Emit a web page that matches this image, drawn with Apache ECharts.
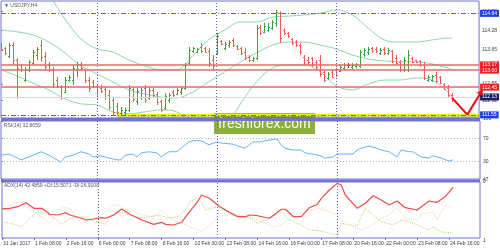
<!DOCTYPE html>
<html><head><meta charset="utf-8">
<script src="https://cdn.jsdelivr.net/npm/echarts@6/dist/echarts.min.js"></script>
<style>html,body{margin:0;padding:0;background:#fff}#c{width:500px;height:250px}</style>
</head><body><div id="c"></div>
<script>
// ---------- data ----------
const tickLabels = ['31 Jan 2017','1 Feb 08:00','2 Feb 16:00','6 Feb 00:00','7 Feb 08:00','8 Feb 16:00','10 Feb 00:00','13 Feb 08:00','14 Feb 16:00','16 Feb 00:00','17 Feb 08:00','20 Feb 16:00','22 Feb 00:00','23 Feb 08:00','24 Feb 16:00'];
const weekStarts = [24, 54, 84];
const opens = [113.81,113.72,113.46,113.81,113.33,113.17,112.68,113.01,113.23,113.49,
113.81,113.46,113.17,113.01,112.68,112.46,112.29,112.68,112.68,113.01,
113.20,113.01,112.68,112.62,112.49,112.42,112.39,112.20,112.04,111.84,
111.61,111.65,111.71,112.39,112.00,112.13,112.42,112.10,112.36,112.23,
112.00,111.78,112.04,112.29,112.23,112.29,112.42,113.23,113.62,113.59,
113.75,113.72,113.62,113.33,113.56,113.94,113.72,113.81,113.98,113.78,
113.72,113.59,113.43,113.33,113.39,114.40,114.24,114.30,114.36,114.53,
114.85,114.30,114.20,114.01,113.91,113.81,113.43,113.33,113.39,113.27,
113.33,112.94,112.75,112.94,113.01,112.97,113.07,113.17,113.10,113.14,
113.14,113.52,113.59,113.72,113.69,113.56,113.69,113.56,113.62,113.39,
113.27,113.01,113.17,113.39,113.33,113.30,113.17,112.68,112.68,112.84,
112.78,112.55,112.42,112.20];
const closes = [113.69,113.56,113.81,113.33,113.07,113.01,113.01,113.27,113.59,113.69,
113.43,113.10,113.01,112.55,112.49,112.13,112.68,112.78,113.07,113.20,
113.07,112.68,112.42,112.49,112.13,112.33,112.13,111.81,111.65,111.65,
111.71,111.71,112.42,112.07,112.33,112.36,112.04,112.36,112.20,111.97,
111.71,112.16,112.20,112.20,112.36,112.42,113.17,113.65,113.72,113.69,
113.62,113.59,113.23,113.14,114.11,113.85,113.85,113.91,113.81,113.69,
113.56,113.39,113.33,113.39,114.36,114.20,114.43,114.40,114.56,114.88,
114.04,114.20,114.11,113.88,113.81,113.59,113.20,113.27,113.20,113.10,
112.88,112.68,112.88,112.78,112.84,113.10,113.17,113.17,113.17,113.20,
113.59,113.65,113.69,113.62,113.62,113.65,113.56,113.65,113.30,113.23,
113.01,113.33,113.49,113.27,113.27,113.17,112.75,112.78,112.81,112.65,
112.58,112.39,112.20,112.13];
const lows = [113.65,113.49,113.39,113.17,112.07,112.94,112.62,112.94,113.17,113.33,
113.27,113.01,112.94,112.42,112.42,112.04,112.26,112.62,112.52,112.78,
113.01,112.58,112.29,112.42,112.04,112.26,112.04,111.71,111.55,111.55,
111.55,111.55,111.65,111.97,111.87,112.04,111.94,112.04,112.13,111.87,
111.65,111.71,111.94,112.13,112.20,112.20,112.36,113.17,113.56,113.56,
113.56,113.56,113.10,113.01,113.49,113.81,113.65,113.72,113.75,113.65,
113.49,113.33,113.27,113.27,113.33,114.14,114.20,114.24,114.30,114.40,
113.88,114.14,114.04,113.81,113.75,113.49,113.14,113.17,113.10,113.01,
112.78,112.62,112.68,112.75,112.78,112.94,113.01,113.07,113.01,113.07,
113.07,113.43,113.49,113.56,113.56,113.49,113.49,113.49,113.23,113.17,
112.94,112.94,112.94,113.23,113.23,113.10,112.68,112.62,112.62,112.58,
112.55,112.36,112.13,111.97];
const highs = [113.88,113.75,113.88,113.91,113.39,113.20,113.10,113.33,113.65,113.75,
113.98,113.59,113.27,113.10,112.78,112.52,112.78,112.84,113.17,113.27,
113.27,113.01,112.78,112.68,112.52,112.52,112.46,112.36,112.10,111.94,
111.81,111.78,112.52,112.46,112.42,112.42,112.52,112.46,112.42,112.29,
112.04,112.26,112.26,112.36,112.42,112.46,113.23,113.75,113.75,113.72,
113.88,113.75,113.72,113.49,114.20,113.98,113.91,113.98,114.04,113.81,
113.75,113.72,113.49,113.43,114.46,114.46,114.53,114.53,114.62,114.95,
114.91,114.36,114.24,114.04,113.98,113.88,113.49,113.43,113.43,113.33,
113.49,113.01,112.94,113.01,113.07,113.17,113.23,113.23,113.23,113.23,
113.65,113.72,113.75,113.75,113.75,113.72,113.75,113.72,113.65,113.49,
113.33,113.43,113.65,113.43,113.33,113.33,113.27,112.84,112.84,112.94,
112.81,112.58,112.52,112.26];

const bandIdx = [0,4,8,12,16,20,24,28,32,36,40,44,48,52,56,60,64,68,72,76,80,84,88,92,96,100,104,108,112,113];
const bbUpper = [115.66,115.72,115.72,115.40,114.66,114.01,113.69,113.59,113.33,113.14,113.01,113.01,113.46,113.98,114.30,114.56,114.56,114.72,114.75,114.79,114.85,114.95,114.79,114.36,113.98,113.91,113.91,113.98,114.04,114.04];
const bbMiddle = [114.30,114.24,114.14,113.91,113.56,113.14,112.88,112.62,112.36,112.23,112.13,112.10,112.29,112.62,112.94,113.27,113.56,113.81,113.91,113.91,113.81,113.69,113.49,113.36,113.30,113.27,113.27,113.20,113.07,113.01];
const bbLower = [113.01,112.81,112.58,112.36,112.07,111.91,111.87,111.65,111.58,111.65,111.71,111.65,111.19,110.90,111.13,111.91,112.62,113.07,113.17,113.17,112.94,112.49,112.36,112.55,112.68,112.68,112.75,112.68,112.29,112.13];

const blueLevels = [114.84, 111.55];
const redLevels = [113.17, 113.00, 112.45];
const lastPrice = 112.13;
const supportLevel = 111.55, supportStart = 29, supportEnd = 119.75;
const arrowPath = [[113, 112.10], [116.8, 111.56], [120.6, 112.36]];
const priceTicks = [114.90, 114.28, 113.65, 112.55, 112.02];

const rsiIdx = [0,2,5,7,10,12,15,16,18,20,22,23,25,27,29,30,31,33,34,35,37,39,40,42,44,45,47,48,50,52,54,55,58,60,61,63,65,66,69,70,71,73,75,76,78,80,81,83,84,86,88,89,90,92,94,95,97,99,100,102,103,105,107,108,110,112,113];
const rsiVal = [41,43,33,38,47,41,29,38,41,47,43,38,40,36,33,33,41,43,38,45,47,45,38,47,47,53,64,66,66,59,64,62,60,55,53,64,64,66,69,59,53,50,50,45,43,40,36,38,43,43,43,50,53,57,53,50,47,38,50,47,47,38,36,40,36,31,33];
const rsiLevels = [70, 30];

const adxIdx = [0,2,4,6,8,10,12,14,16,17,20,21,23,25,26,28,30,32,35,38,40,41,43,45,47,49,50,52,54,56,59,61,62,64,67,70,71,73,75,77,79,80,82,84,85,86,89,91,93,95,97,99,101,104,107,109,111,113];
const adxVal = [25,25.4,26.7,30,25.4,25.4,20.5,19.9,21.8,19.9,17.2,15.8,16.6,17.7,17.2,19.9,24.8,20.5,15.8,12.2,13.9,12.2,11.7,13.9,22.6,30.8,36.3,33.6,28.1,24,18.5,18.5,19.9,19.3,17.2,24.6,24.6,18.5,18.5,25.9,28.7,33.6,40.4,45.9,44.5,36.3,25.4,29.5,35.7,32.2,28.1,31.4,25.9,24,31.4,30.3,34.9,42.5];
const plusIdx = [0,2,5,7,9,12,15,17,20,22,24,26,27,29,31,32,35,37,40,41,44,46,47,49,50,51,54,57,60,62,64,67,70,72,75,77,80,82,84,85,87,89,91,93,95,98,100,102,105,107,108,110,113];
const plusVal = [14.4,13.1,10.3,17.2,22.6,19.9,12.2,17.2,18.5,15.8,14.4,12.2,18.5,22.6,21.3,19.9,17.2,18.5,19.9,17.2,18.5,24,30.8,33.6,29.5,24,26.7,21.3,18.5,17.7,13.1,17.2,22.6,15.8,11.7,7.6,6.7,4.8,3.4,13.1,11.7,11.1,25.4,19.9,14.4,11.7,15.8,14.4,10.3,7.6,10.3,6.2,4.8];
const minusIdx = [0,3,5,8,11,12,15,17,19,21,25,27,29,32,35,38,40,42,45,47,50,51,54,56,59,62,65,68,70,73,76,79,81,84,85,88,90,92,95,97,99,101,104,105,108,109,111,113];
const minusVal = [22.6,29.7,30.8,22.6,15.8,13.1,26.7,25.4,15.8,14.4,19.9,26.7,28.7,22.6,19.9,18.5,24,17.2,13.1,10.3,6.2,9,17.2,19.9,19.9,18.5,14.4,10.3,11.7,19.9,22.6,25.4,24,19.9,15.8,10.3,7.6,10.3,17.2,19.9,26.7,17.2,15.8,20.5,22.6,15.8,28.1,25.9];
const adxTicks = [47, 1];
const rsiTicks = [100, 70, 30, 0];

// ---------- build ----------
const pair = (ix, vals) => ix.map((x, k) => [x, vals[k]]);
const ohlc = opens.map((o, i) => [i, o, closes[i], lows[i], highs[i]]);
const FRAME = '#7373cf';
const FONT = "'Liberation Sans Narrow','Liberation Sans',Arial,sans-serif";
const TXT = '#3a3a3a';
const UP = '#3f9f3f', DOWN = '#f05a5a', DOJI = '#444';
const XMAX = 119.75;

function renderBar(params, api) {
  const i = api.value(0), o = api.value(1), c = api.value(2), l = api.value(3), h = api.value(4);
  const pt = api.coord([i, h]), pb = api.coord([i, l]), po = api.coord([i, o]), pc = api.coord([i, c]);
  const x = Math.round(pt[0]) + 0.5;
  const col = c > o ? UP : (c < o ? DOWN : DOJI);
  const st = {stroke: col, lineWidth: 1, fill: null};
  const yo = Math.round(po[1]) + 0.5, yc = Math.round(pc[1]) + 0.5;
  return {type: 'group', children: [
    {type: 'line', shape: {x1: x, y1: pt[1], x2: x, y2: pb[1]}, style: st},
    {type: 'line', shape: {x1: x - 1.5, y1: yo, x2: x, y2: yo}, style: st},
    {type: 'line', shape: {x1: x, y1: yc, x2: x + 1.5, y2: yc}, style: st}
  ]};
}

const xAxisBase = (gi, showLabels) => ({
  type: 'value', gridIndex: gi, min: 0, max: XMAX, interval: 8,
  axisLine: {show: false}, splitLine: {show: false},
  axisTick: {show: showLabels, length: 2, lineStyle: {color: FRAME}},
  axisLabel: {show: showLabels, showMaxLabel: false, showMinLabel: true, margin: 3, fontSize: 5, color: TXT,
    fontFamily: FONT, align: 'left', padding: [0, 0, 0, 1],
    formatter: v => (v % 8 === 0 && tickLabels[v / 8] !== undefined) ? tickLabels[v / 8] : ''}
});
const yLabel = (vals, fmt) => ({
  show: true, customValues: vals, margin: 3, fontSize: 5, color: TXT, fontFamily: FONT,
  verticalAlignMaxLabel: 'top', verticalAlignMinLabel: 'bottom', formatter: fmt
});

const sepLines = weekStarts.map(w => ({xAxis: w}));
const sepStyle = {color: '#5c5cc8', type: [1, 2], width: 1};

const levelLabel = (bg) => ({show: true, position: 'end', distance: 1, color: '#fff', backgroundColor: bg,
  fontSize: 5, fontFamily: FONT, padding: [1, 2, 1, 2], formatter: p => p.value.toFixed(2)});

const option = {
  animation: false,
  backgroundColor: '#ffffff',
  grid: [
    {left: 1, top: 1, width: 479, height: 117, show: true, borderColor: FRAME, borderWidth: 1},
    {left: 1, top: 121, width: 479, height: 58, show: true, borderColor: FRAME, borderWidth: 1},
    {left: 1, top: 182, width: 479, height: 56, show: true, borderColor: FRAME, borderWidth: 1}
  ],
  xAxis: [xAxisBase(0, false), xAxisBase(1, false), xAxisBase(2, true)],
  yAxis: [
    {type: 'value', gridIndex: 0, position: 'right', min: 111.45, max: 115.24, scale: true,
      axisLine: {show: false}, splitLine: {show: false},
      axisTick: {show: true, customValues: priceTicks, length: 2, lineStyle: {color: FRAME}},
      axisLabel: Object.assign(yLabel(priceTicks, v => v.toFixed(2)), {verticalAlignMaxLabel: null, verticalAlignMinLabel: null})},
    {type: 'value', gridIndex: 1, position: 'right', min: 0, max: 100,
      axisLine: {show: false}, splitLine: {show: false},
      axisTick: {show: true, customValues: rsiTicks, length: 2, lineStyle: {color: FRAME}},
      axisLabel: yLabel(rsiTicks, v => String(v))},
    {type: 'value', gridIndex: 2, position: 'right', min: 1, max: 47,
      axisLine: {show: false}, splitLine: {show: false},
      axisTick: {show: true, customValues: adxTicks, length: 2, lineStyle: {color: FRAME}},
      axisLabel: yLabel(adxTicks, v => String(v))}
  ],
  series: [
    {type: 'line', name: 'bbUpper', xAxisIndex: 0, yAxisIndex: 0, data: pair(bandIdx, bbUpper),
      symbol: 'none', smooth: 0.35, lineStyle: {color: '#8fd6aa', width: 1}, z: 1,
      markLine: {silent: true, symbol: 'none', label: {show: false}, lineStyle: sepStyle, data: sepLines}},
    {type: 'line', name: 'bbMiddle', xAxisIndex: 0, yAxisIndex: 0, data: pair(bandIdx, bbMiddle),
      symbol: 'none', smooth: 0.35, lineStyle: {color: '#8fd6aa', width: 1}, z: 1,
      markLine: {silent: true, symbol: 'none', precision: 2,
        data: [
          {yAxis: lastPrice, lineStyle: {color: '#d9d9d9', width: 1, type: 'solid'}, label: levelLabel('#1b1b6b')},
          ...redLevels.map(v => ({yAxis: v, lineStyle: {color: '#f26464', width: 1.5, type: 'solid'}, label: levelLabel('#f01e1e')})),
          ...blueLevels.map(v => ({yAxis: v, lineStyle: {color: '#6262d6', width: 1, type: [5, 2, 1, 2]}, label: levelLabel('#1c3cf0')}))
        ]}},
    {type: 'line', name: 'bbLower', xAxisIndex: 0, yAxisIndex: 0, data: pair(bandIdx, bbLower),
      symbol: 'none', smooth: 0.35, lineStyle: {color: '#8fd6aa', width: 1}, z: 1},
    {type: 'line', name: 'support', xAxisIndex: 0, yAxisIndex: 0,
      data: [[supportStart, supportLevel], [supportEnd, supportLevel]], symbol: 'none', z: 3,
      lineStyle: {color: '#f4f400', width: 2.5, shadowColor: 'rgba(60,60,60,0.55)', shadowBlur: 3, shadowOffsetY: 2}},
    {type: 'custom', name: 'USDJPY', xAxisIndex: 0, yAxisIndex: 0, renderItem: renderBar,
      data: ohlc, encode: {x: 0, y: [1, 2, 3, 4]}, clip: true, z: 4},
    {type: 'line', name: 'arrowA', xAxisIndex: 0, yAxisIndex: 0, data: arrowPath.slice(0, 2), symbol: 'none',
      clip: false, z: 6, lineStyle: {color: '#e01010', width: 2}},
    {type: 'lines', name: 'arrowB', coordinateSystem: 'cartesian2d', xAxisIndex: 0, yAxisIndex: 0, clip: false, z: 6,
      symbol: ['none', 'arrow'], symbolSize: 6,
      lineStyle: {color: '#e01010', width: 2, opacity: 1},
      data: [{coords: arrowPath.slice(1, 3)}]},
    {type: 'line', name: 'RSI', xAxisIndex: 1, yAxisIndex: 1, data: pair(rsiIdx, rsiVal), symbol: 'none',
      lineStyle: {color: '#68b4f8', width: 1},
      markLine: {silent: true, symbol: 'none', label: {show: false},
        data: [...rsiLevels.map(v => ({yAxis: v, lineStyle: {color: '#b5b5b5', type: [1, 2], width: 1}})),
               ...weekStarts.map(w => ({xAxis: w, lineStyle: sepStyle}))]}},
    {type: 'line', name: 'ADX', xAxisIndex: 2, yAxisIndex: 2, data: pair(adxIdx, adxVal), symbol: 'none',
      lineStyle: {color: '#f24a4a', width: 1.2}, z: 3,
      markLine: {silent: true, symbol: 'none', label: {show: false}, lineStyle: sepStyle, data: sepLines}},
    {type: 'line', name: '+DI', xAxisIndex: 2, yAxisIndex: 2, data: pair(plusIdx, plusVal), symbol: 'none',
      lineStyle: {color: '#a6cc50', width: 1, type: [1, 1.5]}, z: 2},
    {type: 'line', name: '-DI', xAxisIndex: 2, yAxisIndex: 2, data: pair(minusIdx, minusVal), symbol: 'none',
      lineStyle: {color: '#f4c9a8', width: 1, type: [1, 1.5]}, z: 2}
  ],
  graphic: [
    {type: 'rect', shape: {x: 1, y: 118, width: 479, height: 3}, style: {fill: FRAME}, z: 5, silent: true},
    {type: 'rect', shape: {x: 1, y: 179.5, width: 479, height: 2.5}, style: {fill: FRAME}, z: 5, silent: true},
    {type: 'text', left: 4, top: 3, z: 10, style: {text: '{t|▼} USDJPY,H4', fontSize: 5, fontFamily: FONT, fill: '#555',
      rich: {t: {fontSize: 5, fill: '#2a3a9a'}}}},
    {type: 'text', left: 4, top: 123, z: 10, style: {text: 'RSI(14) 32.8659', fontSize: 5, fontFamily: FONT, fill: '#555'}},
    {type: 'text', left: 4, top: 183, z: 10, style: {text: 'ADX(14) 42.4859 +DI:15.5071 -DI:26.9108', fontSize: 5, fontFamily: FONT, fill: '#555'}},
    {type: 'group', left: 214, top: 113, z: 20, children: [
      {type: 'rect', shape: {x: 0, y: 0, width: 101, height: 21}, style: {fill: '#8bb13b'}},
      {type: 'text', x: 50.5, y: 10.5, scaleX: 0.93, style: {text: 'freshforex.com', fontSize: 15, fontFamily: "'Liberation Sans',Arial,sans-serif",
        fill: '#ffffff', align: 'center', verticalAlign: 'middle'}}
    ]}
  ]
};

const chart = echarts.init(document.getElementById('c'), null, {renderer: 'canvas'});
chart.setOption(option);
</script>
</body></html>
